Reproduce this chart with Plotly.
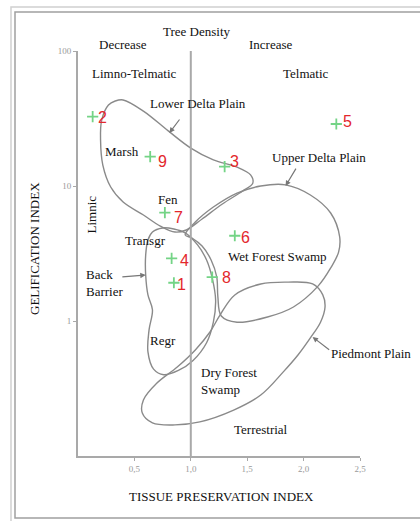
import math
import plotly.graph_objects as go

# Sample points: tissue preservation index (TPI) vs gelification index (GI)
sample_ids = ["1", "2", "3", "4", "5", "6", "7", "8", "9"]
tpi = [0.85, 0.13, 1.30, 0.83, 2.29, 1.39, 0.77, 1.19, 0.64]
gi = [1.92, 32.6, 13.9, 2.91, 28.8, 4.28, 6.34, 2.11, 16.5]

# Facies field outlines (TPI, GI)
lower_delta_x = [0.40, 0.58, 0.80, 1.00, 1.20, 1.41, 1.53, 1.55, 1.46, 1.28, 1.10,
                 0.96, 0.86, 0.73, 0.58, 0.40, 0.29, 0.22, 0.20, 0.21, 0.27, 0.33]
lower_delta_y = [43.4, 35.9, 25.6, 19.1, 15.6, 13.8, 12.1, 10.5, 9.18, 7.36, 5.70,
                 4.72, 4.56, 5.05, 6.10, 7.61, 9.83, 14.3, 21.9, 30.8, 39.8, 42.6]

upper_delta_x = [0.95, 1.04, 1.20, 1.41, 1.62, 1.84, 2.06, 2.24, 2.32, 2.31, 2.24,
                 2.13, 1.91, 1.68, 1.41, 1.27, 1.24, 1.23, 1.18, 1.10, 1.01]
upper_delta_y = [4.34, 5.41, 6.99, 8.87, 10.0, 10.2, 8.58, 6.31, 4.19, 3.24, 2.47,
                 1.82, 1.27, 1.07, 0.98, 1.09, 1.51, 2.12, 2.83, 3.59, 4.12]

back_barrier_x = [0.66, 0.75, 0.85, 0.95, 1.06, 1.14, 1.19, 1.22, 1.20, 1.14, 1.02,
                  0.89, 0.76, 0.67, 0.62, 0.63, 0.66, 0.62, 0.60, 0.60, 0.62]
back_barrier_y = [4.56, 4.89, 4.80, 4.49, 3.66, 2.83, 2.08, 1.43, 0.98, 0.69, 0.51,
                  0.43, 0.40, 0.44, 0.59, 0.86, 1.21, 1.56, 2.19, 3.08, 3.98]

piedmont_x = [1.26, 1.39, 1.62, 1.86, 2.08, 2.17, 2.19, 2.15, 2.06, 1.95, 1.82,
              1.62, 1.38, 1.08, 0.86, 0.66, 0.57, 0.58, 0.70, 0.88, 1.04, 1.17]
piedmont_y = [1.11, 1.56, 1.88, 1.94, 1.88, 1.56, 1.27, 0.98, 0.75, 0.56, 0.42,
              0.283, 0.219, 0.179, 0.170, 0.176, 0.208, 0.260, 0.347, 0.456, 0.610, 0.829]

x_ticks = [0.5, 1.0, 1.5, 2.0, 2.5]
x_tick_text = ["0,5", "1,0", "1,5", "2,0", "2,5"]
y_ticks = [1, 10, 100]
y_tick_text = ["1", "10", "100"]

SERIF = "Liberation Serif, Times New Roman, serif"
CURVE = "#8a8a8a"
AXIS = "#a9a9a9"
TXT = dict(family=SERIF, size=13, color="#111")

fig = go.Figure()

for xs, ys in [(lower_delta_x, lower_delta_y), (upper_delta_x, upper_delta_y),
               (back_barrier_x, back_barrier_y), (piedmont_x, piedmont_y)]:
    fig.add_trace(go.Scatter(
        x=xs + xs[:1], y=ys + ys[:1], mode="lines",
        line=dict(color=CURVE, width=1.4, shape="spline", smoothing=1.0),
        hoverinfo="skip", showlegend=False, cliponaxis=False))

fig.add_trace(go.Scatter(
    x=tpi, y=gi, mode="markers",
    marker=dict(symbol="cross-thin", size=8, line=dict(width=1.8, color="#74d486")),
    showlegend=False, cliponaxis=False))


def lg(v):
    return math.log10(v)


annotations = []

# Sample numbers, set just right of each cross
label_shift = {"1": (8, -2), "2": (10, -1), "3": (10, 5), "4": (13, -2), "5": (11, 2),
               "6": (11, -2), "7": (14, -5), "8": (14, 0), "9": (12, -5)}
for sid, xv, yv in zip(sample_ids, tpi, gi):
    dx, dy = label_shift[sid]
    annotations.append(dict(text=sid, x=xv, y=lg(yv), xref="x", yref="y",
                            xshift=dx, yshift=dy, showarrow=False,
                            xanchor="center", yanchor="middle",
                            font=dict(family="Liberation Sans, Arial, sans-serif",
                                      size=16, color="#e3272c")))

labels = [
    ("Limno-Telmatic", 0.50, 67.6), ("Telmatic", 2.02, 68.7),
    ("Lower Delta Plain", 1.06, 40.5), ("Upper Delta Plain", 2.14, 16.4),
    ("Marsh", 0.39, 17.9), ("Fen", 0.80, 8.0), ("Transgr", 0.60, 3.92),
    ("Regr", 0.75, 0.723), ("Wet Forest Swamp", 1.77, 3.03),
    ("Terrestrial", 1.62, 0.158),
]
for txt, ax_, ay_ in labels:
    annotations.append(dict(text=txt, x=ax_, y=lg(ay_), xref="x", yref="y",
                            xanchor="center", yanchor="middle",
                            showarrow=False, font=TXT))

# Texts lying outside the axis ranges
outer_labels = [("Tree Density", 0.422, 1.049), ("Decrease", 0.160, 1.015),
                ("Increase", 0.684, 1.015), ("Piedmont Plain", 1.039, 0.252)]
for txt, px_, py_ in outer_labels:
    annotations.append(dict(text=txt, x=px_, y=py_, xref="paper", yref="paper",
                            xanchor="center", yanchor="middle",
                            showarrow=False, font=TXT))

annotations.append(dict(text="Back<br>Barrier", x=0.05, y=lg(1.91), xref="x", yref="y",
                        xanchor="left", yanchor="middle", align="left",
                        showarrow=False, font=TXT))
annotations.append(dict(text="Dry Forest<br>Swamp", x=1.07, y=lg(0.36), xref="x", yref="y",
                        xanchor="left", yanchor="middle", align="left",
                        showarrow=False, font=TXT))
annotations.append(dict(text="Limnic", x=0.12, y=lg(6.10), xref="x", yref="y",
                        xanchor="center", yanchor="middle",
                        textangle=-90, showarrow=False, font=TXT))

# Pointer arrows from field names to their outlines
arrows = [((0.81, 24.7), (0.91, 31.9)), ((1.84, 10.0), (1.94, 13.8)),
          ((0.60, 2.19), (0.38, 2.12)), ((2.08, 0.761), (2.24, 0.60))]
for (hx, hy), (tx, ty) in arrows:
    annotations.append(dict(text="", x=hx, y=lg(hy), ax=tx, ay=lg(ty),
                            xref="x", yref="y", axref="x", ayref="y",
                            showarrow=True, arrowhead=2, arrowsize=0.9,
                            arrowwidth=1.2, arrowcolor="#777", standoff=0))

# Axis titles
annotations.append(dict(text="GELIFICATION INDEX", x=-0.1525, y=0.5136, xref="paper", yref="paper",
                        xanchor="center", yanchor="middle",
                        textangle=-90, showarrow=False, font=TXT))
annotations.append(dict(text="TISSUE PRESERVATION INDEX", x=0.5106, y=-0.1012,
                        xref="paper", yref="paper", xanchor="center", yanchor="middle",
                        showarrow=False, font=TXT))

shapes = [
    # divider at TPI = 1
    dict(type="line", xref="x", yref="paper", x0=1, x1=1, y0=0, y1=1,
         line=dict(color=AXIS, width=2)),
    # page frame
    dict(type="rect", xref="paper", yref="paper", x0=-0.2376, x1=1.30, y0=-0.175, y1=1.1086,
         line=dict(color="#d0d0d0", width=1.5)),
    dict(type="rect", xref="paper", yref="paper", x0=-0.2234, x1=1.28, y0=-0.1531, y1=1.0963,
         line=dict(color="#a0a0a0", width=1.5)),
]

fig.update_layout(
    width=420, height=521,
    margin=dict(l=78, r=60, t=51, b=65),
    paper_bgcolor="white", plot_bgcolor="white",
    showlegend=False,
    annotations=annotations, shapes=shapes,
    xaxis=dict(range=[0, 2.5], tickvals=x_ticks, ticktext=x_tick_text,
               showline=True, linecolor=AXIS, linewidth=2, mirror=False,
               ticks="outside", ticklen=3, tickcolor=AXIS, tickwidth=1,
               showgrid=False, zeroline=False,
               tickfont=dict(family=SERIF, size=9, color="#9a9a9a")),
    yaxis=dict(type="log", range=[-1, 2], tickvals=y_ticks, ticktext=y_tick_text,
               showline=True, linecolor=AXIS, linewidth=2, mirror=False,
               ticks="outside", ticklen=3, tickcolor=AXIS, tickwidth=1,
               showgrid=False, zeroline=False,
               tickfont=dict(family=SERIF, size=9, color="#9a9a9a")),
)

fig.write_html("out.html")
